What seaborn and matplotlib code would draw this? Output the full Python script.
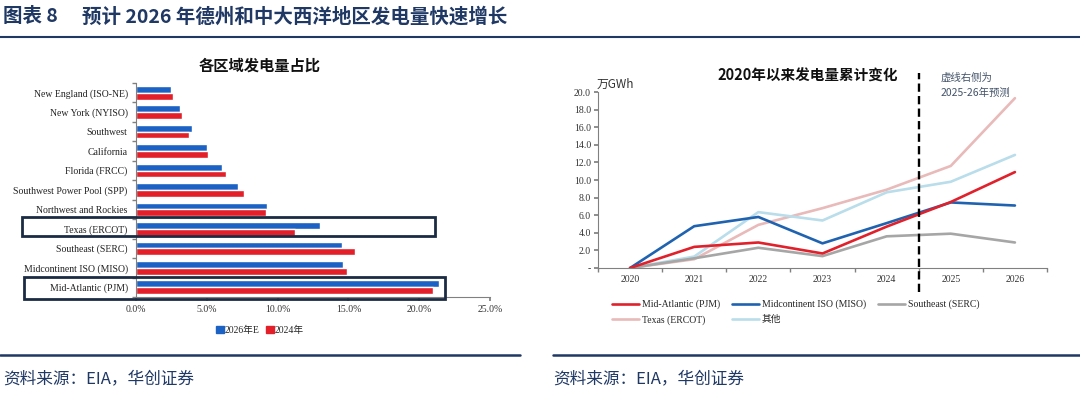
import matplotlib
matplotlib.use('Agg')
import matplotlib.pyplot as plt
from matplotlib.patches import Rectangle, Patch
from matplotlib.lines import Line2D
import seaborn as sns
import pandas as pd
import numpy as np

# data: share of generation by region (%)
regions = ['New England (ISO-NE)', 'New York (NYISO)', 'Southwest', 'California',
           'Florida (FRCC)', 'Southwest Power Pool (SPP)', 'Northwest and Rockies',
           'Texas (ERCOT)', 'Southeast (SERC)', 'Midcontinent ISO (MISO)', 'Mid-Atlantic (PJM)']
share_2026e = [2.45, 3.1, 3.95, 5.0, 6.05, 7.2, 9.25, 13.0, 14.55, 14.6, 21.4]
share_2024 = [2.6, 3.25, 3.75, 5.1, 6.35, 7.65, 9.2, 11.2, 15.45, 14.9, 21.0]
bar_years = ['2026年E', '2024年']

# data: cumulative change in generation since 2020 (万GWh)
years = [2020, 2021, 2022, 2023, 2024, 2025, 2026]
pjm = [0.0, 2.4, 2.9, 1.65, 4.7, 7.5, 10.9]
miso = [0.0, 4.75, 5.8, 2.8, 5.1, 7.45, 7.1]
serc = [0.0, 1.1, 2.3, 1.35, 3.6, 3.9, 2.9]
ercot = [0.0, 1.0, 4.9, 6.8, 8.9, 11.6, 19.3]
other = [0.0, 1.3, 6.35, 5.4, 8.6, 9.8, 12.85]
series_names = ['Mid-Atlantic (PJM)', 'Midcontinent ISO (MISO)', 'Southeast (SERC)',
                'Texas (ERCOT)', '其他']

sns.set_theme(style='white')
plt.rcParams['font.family'] = ['Liberation Serif', 'Noto Sans CJK SC', 'DejaVu Sans']
plt.rcParams['axes.unicode_minus'] = False

navy = '#1F3864'
blue = '#1B62C4'
red = '#E3202A'
line_colors = ['#E0212B', '#1F63B0', '#A6A6A6', '#E8BAB9', '#B9DDEA']
cjk = ['Noto Sans CJK SC', 'DejaVu Sans']

W, H = 1080, 394
fig = plt.figure(figsize=(W / 100, H / 100), dpi=100)


def fx(px):
    return px / W


def fy(py):
    return 1 - py / H


# header
fig.text(fx(3), fy(17), '图表 8', family=cjk, fontsize=14, fontweight='bold',
         color=navy, va='center', ha='left')
fig.text(fx(82), fy(17), '预计 2026 年德州和中大西洋地区发电量快速增长', family=cjk,
         fontsize=14, fontweight='bold', color=navy, va='center', ha='left')
fig.add_artist(Line2D([0, 1], [fy(37), fy(37)], color=navy, lw=1.5))

# footers
fig.add_artist(Line2D([0, fx(520)], [fy(355), fy(355)], color=navy, lw=1.8))
fig.add_artist(Line2D([fx(553), 1], [fy(355), fy(355)], color=navy, lw=1.8))
for x0 in (3, 553):
    fig.text(fx(x0), fy(379), '资料来源：EIA，华创证券', family=cjk, fontsize=12,
             color=navy, va='center', ha='left')

# ---------- left: bar chart ----------
ax1 = fig.add_axes([fx(136), fy(297), fx(490 - 136), fy(83) - fy(297)])
bar_df = pd.DataFrame({
    'region': regions * 2,
    'share': share_2026e + share_2024,
    'year': [bar_years[0]] * len(regions) + [bar_years[1]] * len(regions),
})
sns.barplot(data=bar_df, y='region', x='share', hue='year', orient='h',
            order=regions, hue_order=bar_years, palette=[blue, red],
            width=0.7, ax=ax1, legend=False, saturation=1)
ax1.set_xlim(0, 25)
ax1.set_xticks(np.arange(0, 25.1, 5))
ax1.set_xticklabels(['%.1f%%' % v for v in np.arange(0, 25.1, 5)], fontsize=7, color='#333333')
ax1.set_yticks(range(len(regions)))
ax1.set_yticklabels(regions, fontsize=7, color='#222222')
ax1.set_yticks(np.arange(-0.5, len(regions), 1), minor=True)
ax1.tick_params(axis='y', which='major', length=0, pad=6)
ax1.tick_params(axis='y', which='minor', length=3, color='#808080', direction='out', left=True)
ax1.tick_params(axis='x', length=3, color='#808080', direction='out', bottom=True, pad=3)
ax1.set_xlabel('')
ax1.set_ylabel('')
for s in ['top', 'right']:
    ax1.spines[s].set_visible(False)
for s in ['left', 'bottom']:
    ax1.spines[s].set_color('#808080')
    ax1.spines[s].set_linewidth(0.8)
ax1.grid(False)

fig.text(fx(260), fy(66), '各区域发电量占比', family=cjk, fontsize=11, fontweight='bold',
         color='#111111', ha='center', va='center')

leg1 = fig.legend(handles=[Patch(color=blue), Patch(color=red)], labels=bar_years,
                  loc='center', bbox_to_anchor=(fx(260), fy(330)), ncol=2, frameon=False,
                  fontsize=7, handlelength=0.8, handleheight=0.8, handletextpad=0.1,
                  columnspacing=0.6)

# highlight boxes
for (x0, y0, x1, y1) in [(22, 217, 435, 236), (24, 277, 445, 299)]:
    fig.add_artist(Rectangle((fx(x0), fy(y1)), fx(x1 - x0), fy(y0) - fy(y1), fill=False,
                             ec='#1C2B44', lw=2))

# ---------- right: line chart ----------
ax2 = fig.add_axes([fx(598), fy(268), fx(1047 - 598), fy(92) - fy(268)])
line_df = pd.DataFrame({
    'year': years * 5,
    'value': pjm + miso + serc + ercot + other,
    'series': sum([[n] * len(years) for n in series_names], []),
})
draw_order = ['Texas (ERCOT)', '其他', 'Southeast (SERC)', 'Midcontinent ISO (MISO)',
              'Mid-Atlantic (PJM)']
pal = dict(zip(series_names, line_colors))
for name in draw_order:
    sns.lineplot(data=line_df[line_df['series'] == name], x='year', y='value',
                 color=pal[name], linewidth=1.9, ax=ax2, legend=False)

ax2.set_xlim(2019.5, 2026.5)
ax2.set_ylim(0, 20)
ax2.set_xticks(years)
ax2.set_xticklabels([str(y) for y in years], fontsize=7, color='#333333')
ax2.set_xticks(np.arange(2019.5, 2026.6, 1), minor=True)
ax2.tick_params(axis='x', which='major', length=0, pad=5)
ax2.tick_params(axis='x', which='minor', length=3, color='#808080', direction='out', bottom=True)
yt = np.arange(0, 20.1, 2)
ax2.set_yticks(yt)
ax2.set_yticklabels(['-' if v == 0 else '%.1f' % v for v in yt], fontsize=7, color='#333333')
ax2.tick_params(axis='y', length=3, color='#808080', direction='out', left=True, pad=2)
ax2.set_xlabel('')
ax2.set_ylabel('')
for s in ['top', 'right']:
    ax2.spines[s].set_visible(False)
for s in ['left', 'bottom']:
    ax2.spines[s].set_color('#808080')
    ax2.spines[s].set_linewidth(0.8)
ax2.grid(False)

# forecast divider
ax2.plot([2024.5, 2024.5], [-2.7, 22.2], color='black', lw=1.7, ls=(0, (3.5, 1.8)),
         clip_on=False, zorder=5)

fig.text(fx(808), fy(76), '2020年以来发电量累计变化', family=cjk, fontsize=10.5,
         fontweight='bold', color='#111111', ha='center', va='center')
fig.text(fx(597), fy(84), '万GWh', family=cjk, fontsize=8.5, color='#333333',
         ha='left', va='center')
fig.text(fx(941), fy(78), '虚线右侧为', family=cjk, fontsize=7.5, color='#44546A',
         ha='left', va='center', style='italic')
fig.text(fx(941), fy(93), '2025-26年预测', family=cjk, fontsize=7.5, color='#44546A',
         ha='left', va='center', style='italic')

handles = [Line2D([], [], color=pal[n], lw=1.9) for n in series_names]
order = [0, 3, 1, 4, 2]
ax2.legend([handles[i] for i in order], [series_names[i] for i in order], ncol=3,
           loc='upper left', bbox_to_anchor=(fx(603), fy(291)),
           bbox_transform=fig.transFigure, frameon=False, fontsize=7,
           handlelength=2.8, handletextpad=0.3, columnspacing=1.2, labelspacing=0.6)

fig.savefig('out.png', dpi=100)
